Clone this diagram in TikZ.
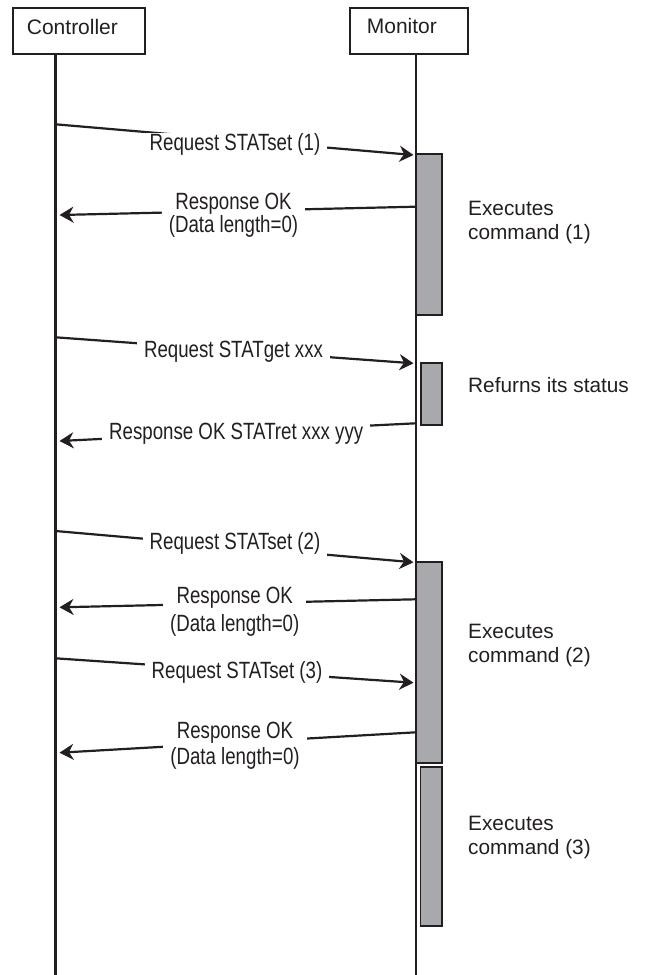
\documentclass[tikz,border=0pt]{standalone}
\usepackage{fontspec}
\setmainfont{Liberation Sans}
\newfontfamily\condfont[FakeStretch=0.795]{Liberation Sans}
\usetikzlibrary{arrows.meta}
\definecolor{ink}{HTML}{231F20}
\definecolor{barfill}{HTML}{A7A9AC}
\newcommand\mystack[3]{\vtop{\baselineskip=#1\relax\halign{\hfil##\hfil\cr#2\cr#3\cr}}}
\newcommand\myleftstack[2]{\vtop{\baselineskip=24pt\relax\halign{##\hfil\cr#1\cr#2\cr}}}
\begin{document}
\begin{tikzpicture}[x=1pt,y=-1pt,
  hdrbox/.style={draw=ink, line width=2.3pt, inner sep=0pt, fill=white},
  hdrtext/.style={font=\fontsize{21}{24}\selectfont, text=ink, inner sep=0pt, anchor=base west},
  life/.style={draw=ink, line width=2.2pt},
  actbar/.style={draw=ink, fill=barfill, line width=1.8pt, inner sep=0pt, outer sep=0pt, anchor=north west},
  msg/.style={draw=ink, line width=2.2pt, -{Stealth[length=14pt,width=16pt,inset=4.5pt]}},
  lbl/.style={font=\condfont\fontsize{23.5}{23.5}\selectfont, text=ink, fill=white, inner xsep=7pt, inner ysep=1pt, anchor=base},
  note/.style={font=\fontsize{20.8}{24}\selectfont, text=ink, inner sep=0pt, anchor=base west}]
\useasboundingbox (0,0) rectangle (647,975);

% headers
\node[hdrbox, minimum width=132.3pt, minimum height=46pt] (ctrl) at (78.85,31.3) {};
\node[hdrbox, minimum width=117.7pt, minimum height=46pt] (mon) at (408.85,31.3) {};
\node[hdrtext] (ctrllabel) at (26.7,34.3) {Controller};
\node[hdrtext] (monlabel) at (366.7,33.3) {Monitor};

% lifelines
\coordinate (cend) at (55.5,975);
\coordinate (mend) at (415.7,975);
\draw[life] (cend |- ctrl.south) -- (cend);
\draw[life] (mend |- mon.south) -- (mend);

% message end points
\coordinate (q1s) at (55.5,124.3);  \coordinate (q1e) at (413.5,155);
\coordinate (r1s) at (415.7,206.7); \coordinate (r1e) at (59.5,215);
\coordinate (q2s) at (55.5,337.3);  \coordinate (q2e) at (413.5,363.3);
\coordinate (r2s) at (415.7,423.3); \coordinate (r2e) at (59.5,441);
\coordinate (q3s) at (55.5,531);    \coordinate (q3e) at (413.5,562.3);
\coordinate (r3s) at (415.7,599.3); \coordinate (r3e) at (59.5,607.3);
\coordinate (q4s) at (55.5,658.3);  \coordinate (q4e) at (413.5,682.7);
\coordinate (r4s) at (415.7,732.3); \coordinate (r4e) at (59.5,752.7);

\draw[msg] (q1s) -- (q1e);
\draw[msg] (r1s) -- (r1e);
\draw[msg] (q2s) -- (q2e);
\draw[msg] (r2s) -- (r2e);
\draw[msg] (q3s) -- (q3e);
\draw[msg] (r3s) -- (r3e);
\draw[msg] (q4s) -- (q4e);
\draw[msg] (r4s) -- (r4e);

% activation bars
\node[actbar, minimum width=26.3pt, minimum height=160.7pt] (bar1) at (415.7,154.3) {};
\node[actbar, minimum width=21.3pt, minimum height=61.7pt] (bar2) at (420.7,363.3) {};
\node[actbar, minimum width=26.3pt, minimum height=200.4pt] (bar3) at (415.7,562.3) {};
\node[actbar, minimum width=21.8pt, minimum height=159pt] (bar4) at (420.5,766.7) {};

% message labels
\node[lbl] (q1lbl) at (235,150.8) {Request STATset (1)};
\node[lbl] (r1lbl) at (233.5,209.8) {\mystack{21.6pt}{Response OK}{(Data length=0)}};
\node[lbl] (q2lbl) at (233.5,357.8) {Request STATget xxx};
\node[lbl] (r2lbl) at (236.2,439.5) {Response OK STATret xxx yyy};
\node[lbl] (q3lbl) at (235,549.8) {Request STATset (2)};
\node[lbl] (r3lbl) at (234.7,603.8) {\mystack{27.4pt}{Response OK}{(Data length=0)}};
\node[lbl] (q4lbl) at (237,678.8) {Request STATset (3)};
\node[lbl] (r4lbl) at (235,738.2) {\mystack{26.3pt}{Response OK}{(Data length=0)}};

% notes
\node[note] (n1) at (468,215) {\myleftstack{Executes}{command (1)}};
\node[note] (n2) at (468,392.7) {Refurns its status};
\node[note] (n3) at (468,638.3) {\myleftstack{Executes}{command (2)}};
\node[note] (n4) at (468,830.7) {\myleftstack{Executes}{command (3)}};
\end{tikzpicture}
\end{document}
